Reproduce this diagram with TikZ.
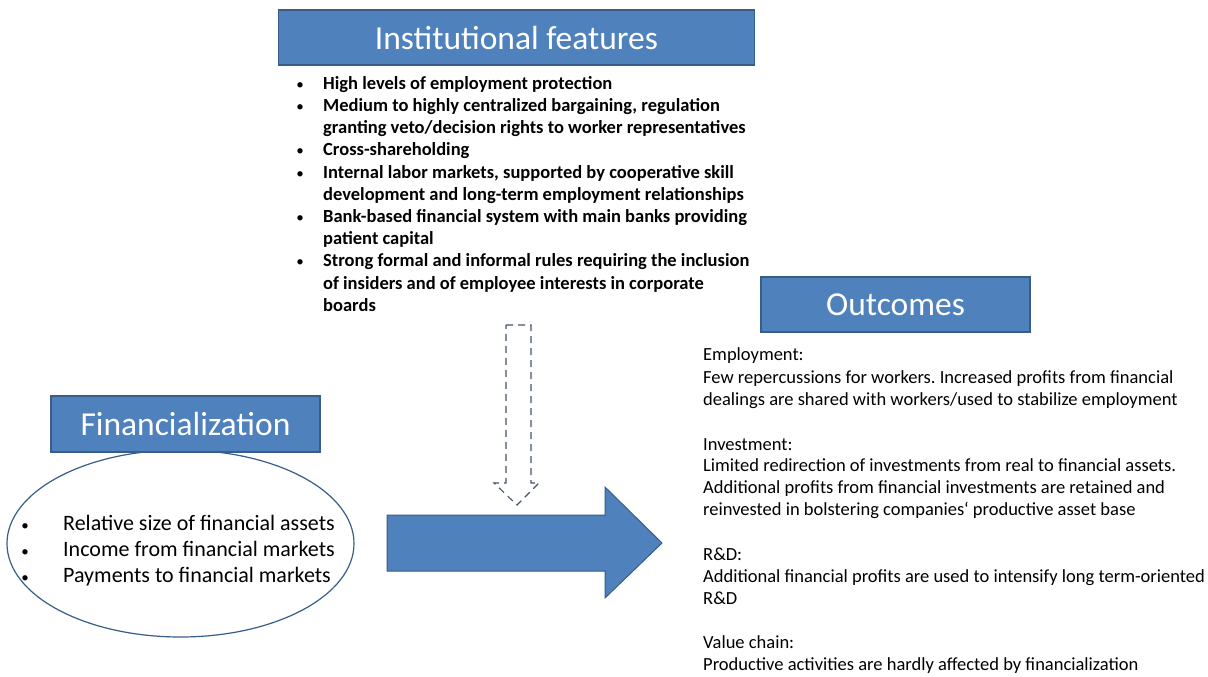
\documentclass[tikz,border=0pt]{standalone}
\usepackage{fontspec}
\setmainfont{Carlito}
\frenchspacing
\usetikzlibrary{positioning,shapes.geometric}
\definecolor{boxblue}{HTML}{4F81BD}
\definecolor{boxedge}{HTML}{385D8A}
\definecolor{dashgray}{HTML}{44546A}
\tikzset{
  titlebox/.style={draw=boxedge,line width=1.2pt,fill=boxblue,text=white,
    minimum height=55pt,inner sep=0pt,font=\fontsize{33.5}{38}\selectfont},
  boldline/.style={anchor=base west,inner sep=0pt,font=\bfseries\fontsize{18.5}{22}\selectfont},
  plainline/.style={anchor=base west,inner sep=0pt,font=\fontsize{18.5}{22}\selectfont},
  bigline/.style={anchor=base west,inner sep=0pt,font=\fontsize{22}{26}\selectfont},
  dot/.style={anchor=base,inner sep=0pt,font=\fontsize{15}{18}\selectfont},
}
\begin{document}
\begin{tikzpicture}[x=1pt,y=-1pt]
\useasboundingbox[fill=white] (0,0) rectangle (1208,677);
% Institutional features
\node[titlebox,minimum width=476pt] (inst) at (516.5,37.5) {Institutional features};
\foreach \yy/\txt [count=\i] in {89.3/{High levels of employment protection},
  111.5/{Medium to highly centralized bargaining, regulation},
  133.7/{granting veto/decision rights to worker representatives},
  155.9/{Cross-shareholding},
  178.1/{Internal labor markets, supported by cooperative skill},
  200.3/{development and long-term employment relationships},
  222.5/{Bank-based financial system with main banks providing},
  244.7/{patient capital},
  266.9/{Strong formal and informal rules requiring the inclusion},
  289.1/{of insiders and of employee interests in corporate},
  311.3/{boards}}
  \node[boldline] (inst\i) at (323,\yy) {\txt};
\foreach \yy [count=\i] in {89.3,111.5,155.9,178.1,222.5,266.9}
  \node[dot] (instdot\i) at (300,\yy) {\textbullet};
% Financialization
\node[draw=boxedge,line width=1.2pt,ellipse,minimum width=347pt,minimum height=187pt] (finell) at (180.5,543.5) {};
\node[titlebox,minimum width=269pt,minimum height=56pt] (fin) at (185.5,424) {Financialization};
\foreach \yy/\txt [count=\i] in {530/{Relative size of financial assets},
  556/{Income from financial markets},582/{Payments to financial markets}}
  {\node[bigline] (fin\i) at (63,\yy) {\txt};
   \node[dot] (findot\i) at (25,\yy) {\textbullet};}
% arrows
\draw[dashgray,line width=1.1pt,dash pattern=on 7pt off 5pt] (506,325) -- (531,325) -- (531,483) -- (539,483)
  -- (517,505) -- (494,483) -- (506,483) -- cycle;
\draw[draw=boxedge,line width=1pt,fill=boxblue] (387,515) -- (605,515) -- (605,487) -- (662,543)
  -- (605,598) -- (605,571) -- (387,571) -- cycle;
% Outcomes
\node[titlebox,minimum width=269pt] (out) at (895.5,304.5) {Outcomes};
\foreach \yy/\txt [count=\i] in {360.7/{Employment:},
  383.3/{Few repercussions for workers. Increased profits from financial},
  405/{dealings are shared with workers/used to stabilize employment},
  450/{Investment:},
  471.7/{Limited redirection of investments from real to financial assets.},
  493.5/{Additional profits from financial investments are retained and},
  515.7/{reinvested in bolstering companies‘ productive asset base},
  560/{R\&D:},
  582.3/{Additional financial profits are used to intensify long term-oriented},
  604.3/{R\&D},
  648.3/{Value chain:},
  670/{Productive activities are hardly affected by financialization}}
  \node[plainline] (out\i) at (703,\yy) {\txt};
\end{tikzpicture}
\end{document}
